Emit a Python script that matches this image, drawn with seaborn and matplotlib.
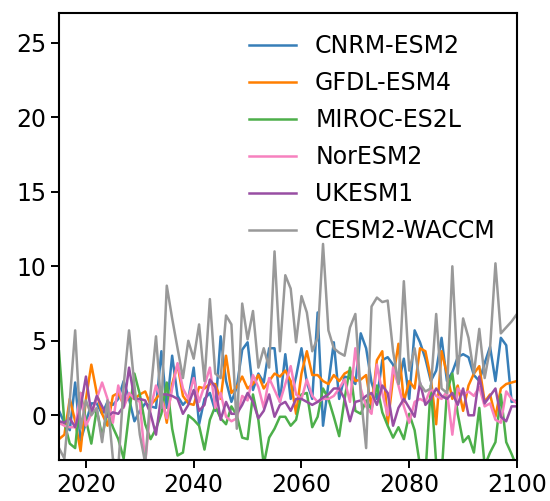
import numpy as np
import pandas as pd
import matplotlib
matplotlib.use("Agg")
import matplotlib.pyplot as plt
import seaborn as sns

years = list(range(2015, 2101))

models = ["CNRM-ESM2", "GFDL-ESM4", "MIROC-ES2L", "NorESM2", "UKESM1", "CESM2-WACCM"]
colors = ["#377eb8", "#ff7f00", "#4daf4a", "#f781bf", "#984ea3", "#999999"]

cnrm = [0.3, -0.5, -1.0, 2.2, -1.7, -0.5, 0.8, 0.8, 0.1, 0.9,
        0.7, 1.1, 2.3, 1.1, -0.4, 0.3, 0.8, 0.6, 0.5, 4.3,
        0.5, 4.0, 1.3, 0.7, 1.1, 3.2, -0.6, 1.1, 1.5, 0.3,
        5.3, 2.3, 0.9, 1.9, 4.4, 4.9, 1.7, 2.8, 2.2, 4.5,
        4.5, 0.9, 4.1, 1.1, 2.6, 4.5, 2.2, 1.1, 6.9, -0.7,
        2.1, 4.9, 1.1, 2.6, 2.5, 2.1, 5.5, 4.5, 2.2, 1.1,
        3.7, 3.9, 3.4, 2.1, 3.8, 1.1, 5.7, 4.9, 3.8, 2.3,
        3.0, 5.2, 2.3, 2.9, 3.9, 4.1, 3.9, 2.7, 2.3, 3.5,
        4.6, 2.3, 5.2, 4.7, 0.9, 1.0]

gfdl = [-1.6, -1.3, 1.1, -0.4, -2.4, 1.1, 3.4, 1.5, 0.1, -0.7,
        1.3, 1.5, 0.7, 1.3, 1.1, 1.4, 1.6, 0.7, 1.1, 1.6,
        -0.5, 2.1, 3.4, 1.3, 0.8, 0.7, 1.9, 1.8, 2.1, 2.1,
        1.1, 4.0, 1.5, 1.9, 2.6, 1.8, 2.1, 2.7, 1.8, 2.3,
        2.8, 2.6, 3.0, 2.3, 0.1, 2.8, 4.3, 2.7, 2.7, 2.3,
        2.1, 2.7, 2.3, 2.8, 3.0, 2.3, 2.4, 2.7, 0.5, 3.7,
        4.3, -0.6, 2.5, 4.8, 0.9, 2.3, 1.8, 4.5, 4.3, 2.5,
        -0.6, 4.3, 2.8, 1.1, 2.0, 0.3, 2.0, 2.8, 3.3, 0.9,
        1.4, -0.1, 1.8, 2.1, 2.2, 2.3]

miroc = [4.3, -0.5, -1.9, -2.2, 1.5, -0.3, -1.9, 0.4, -1.4, 0.3,
         -0.8, -1.6, -2.9, 0.1, 2.8, 1.4, -0.6, -1.6, -0.9, 0.1,
         2.2, -0.9, -2.7, -2.5, 0.0, -0.3, -0.7, -2.3, -0.3, 0.6,
         -0.2, -0.6, 0.6, 0.0, -1.5, -1.6, 1.4, -0.3, -3.3, -1.5,
         -0.9, -0.1, -0.1, -0.7, -0.3, 1.4, 1.5, -0.8, -0.1, 1.8,
         1.1, -0.1, -1.4, 1.1, 3.2, 0.3, 0.1, 1.0, 0.4, 2.0,
         0.2, -0.7, -1.5, -0.8, -1.6, 0.1, -1.0, -3.4, -4.0, 2.0,
         -3.2, -4.0, 1.6, 2.8, 0.1, -1.8, -1.4, -2.5, 0.5, -3.4,
         -2.5, -1.8, 1.4, -1.8, -2.6, -3.5]

noresm = [-0.5, -0.7, -0.8, -0.8, 1.5, -0.7, 0.1, 1.1, 2.2, 1.1,
          -0.5, 2.0, 0.5, 1.5, 1.1, 0.9, -3.2, 0.5, 2.0, 1.1,
          -0.2, 1.8, 3.5, 1.8, 1.1, 2.5, 0.9, 2.0, 3.2, 0.5,
          1.5, -0.1, -0.4, -0.2, 1.3, 1.0, 2.7, 1.9, 0.5, 2.5,
          1.7, 0.9, 2.1, 3.3, 1.4, 1.1, 2.4, 1.3, 0.9, 1.1,
          1.1, 1.3, 1.8, 2.4, 0.9, 4.5, 1.8, 0.6, 0.1, 3.4,
          1.5, 0.0, 3.2, 2.0, 0.6, -0.5, 0.9, 1.1, 0.9, 1.8,
          1.3, 1.1, 1.6, -1.3, 1.8, 1.4, 1.6, 1.3, 1.9, 0.6,
          0.8, -0.3, -0.5, 1.6, 1.1, 0.8]

ukesm = [-0.4, -0.5, -0.2, -0.8, 0.5, 2.6, 0.1, 1.3, 0.6, -0.1,
         0.2, 0.1, 0.6, 3.2, 1.1, 1.1, 1.0, 0.1, -1.3, 1.4,
         1.4, 1.3, 1.1, 0.1, 0.7, 1.7, 0.3, 0.7, 2.4, 1.9,
         -0.3, 0.9, 0.1, 0.1, 0.7, 1.5, 0.9, -0.2, 0.3, 1.4,
         -0.1, 0.7, 0.9, 0.3, 1.1, 1.1, 0.9, 0.7, 0.9, 1.2,
         1.4, 1.8, 1.8, 1.1, -0.4, 0.9, 1.0, 1.3, 1.5, 0.7,
         2.0, 1.5, -0.7, 0.5, 1.1, 0.5, -0.1, 2.2, 0.7, 1.1,
         1.8, 1.3, 1.1, 1.5, 0.7, 1.8, 0.0, 0.0, 2.6, 0.8,
         1.3, 1.8, -0.1, -0.4, 0.6, 0.6]

cesm = [-2.2, -2.9, 1.0, 5.7, -0.9, 1.0, 0.0, 0.5, -1.8, 1.0,
        -2.9, -3.5, 2.0, 5.7, 2.0, -1.3, -3.2, 1.5, 5.3, 0.5,
        8.7, 6.5, 4.5, 2.5, 5.0, 3.8, 6.1, 2.3, 7.8, 2.8,
        2.5, 6.7, 6.1, -0.9, 7.5, 5.1, 7.0, 3.2, 4.5, 3.2,
        11.0, 4.3, 9.4, 8.5, 4.9, 8.0, 6.9, 4.3, 5.2, 11.5,
        5.7, 4.5, 4.2, 4.0, 5.9, 6.8, 1.4, -2.2, 7.3, 7.9,
        7.6, 7.7, 4.3, 2.1, 9.0, 3.0, 4.5, 2.1, 1.6, 1.8,
        6.8, 1.8, 1.5, 10.0, 2.8, 6.5, 5.2, 2.8, 5.8, 2.5,
        4.5, 10.2, 5.5, 5.9, 6.3, 6.8]

series = [cnrm, gfdl, miroc, noresm, ukesm, cesm]
df = pd.concat(
    [pd.DataFrame({"year": years, "value": vals, "model": name})
     for name, vals in zip(models, series)],
    ignore_index=True,
)

fs = 17
fig = plt.figure(figsize=(5.5, 5.01), dpi=100)
ax = fig.add_axes([59 / 550, 41 / 501, 458 / 550, 447 / 501])

sns.lineplot(data=df, x="year", y="value", hue="model", hue_order=models,
             palette=colors, linewidth=1.8, ax=ax)

ax.set_xlim(2015, 2100)
ax.set_ylim(-3, 27)
ax.set_xticks([2020, 2040, 2060, 2080, 2100])
ax.set_yticks([0, 5, 10, 15, 20, 25])
ax.set_xlabel("")
ax.set_ylabel("")
ax.tick_params(labelsize=fs, length=5.7, width=1.4)
for sp in ax.spines.values():
    sp.set_linewidth(1.5)

handles, labels = ax.get_legend_handles_labels()
ax.legend(handles, labels, loc="upper right", frameon=False, fontsize=fs,
          labelspacing=0.55)

fig.savefig("out.png", dpi=100)
